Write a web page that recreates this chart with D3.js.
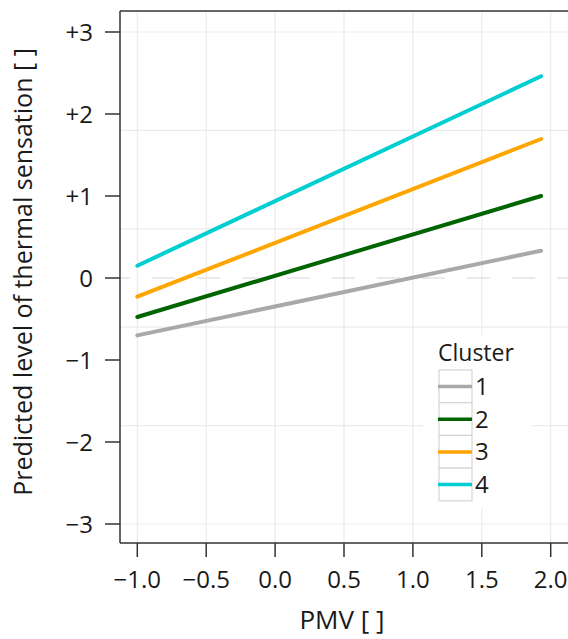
<!DOCTYPE html>
<html><head><meta charset="utf-8">
<script src="https://cdn.jsdelivr.net/npm/d3@7"></script>
<style>body{margin:0;background:#fff}svg{display:block}text{font-family:"Open Sans",sans-serif;fill:#1a1a1a}</style>
</head><body>
<svg id="c" width="568" height="639"></svg>
<script>
const clusters = ["1","2","3","4"];
const colors = ["#a9a9a9","#006400","#ffa500","#00ced1"];
const pmv = [-1.0, 1.93];
const pred1 = [-0.70, 0.333];
const pred2 = [-0.476, 1.0];
const pred3 = [-0.228, 1.695];
const pred4 = [0.15, 2.46];
const xTicks = [-1.0,-0.5,0.0,0.5,1.0,1.5,2.0];
const yTicks = [-3,-2,-1,0,1,2,3];
const yGrid = [-3.0,-1.8,-0.6,0.6,1.8,3.0];
const xTitle = "PMV [ ]";
const yTitle = "Predicted level of thermal sensation [ ]";
const legendTitle = "Cluster";

(function(){
const series = [pred1,pred2,pred3,pred4];
const svg = d3.select("#c");
const W=568;
const pL=120, pT=11, pB=543;
const x = d3.scaleLinear().domain([-1,2]).range([137.3,550.7]);
const y = d3.scaleLinear().domain([-3,3]).range([524,32]);

// grid
svg.append("g").selectAll("line").data(xTicks).join("line")
  .attr("x1",d=>x(d)).attr("x2",d=>x(d)).attr("y1",pT).attr("y2",pB)
  .attr("stroke","#ebebeb").attr("stroke-width",1.2);
svg.append("g").selectAll("line").data(yGrid).join("line")
  .attr("x1",pL).attr("x2",W).attr("y1",d=>y(d)).attr("y2",d=>y(d))
  .attr("stroke","#ebebeb").attr("stroke-width",1.2);
// zero reference dashed
svg.append("line").attr("x1",pL).attr("x2",W).attr("y1",y(0)).attr("y2",y(0))
  .attr("stroke","#e3e3e3").attr("stroke-width",1.5)
  .attr("stroke-dasharray","23,22").attr("stroke-dashoffset",13);

// lines
const line = d3.line().x((d,i)=>x(pmv[i])).y(d=>y(d));
series.forEach((s,i)=>{
  svg.append("path").attr("d",line(s)).attr("fill","none")
    .attr("stroke",colors[i]).attr("stroke-width",4).attr("stroke-linecap","round");
});

// legend
const lg = svg.append("g");
lg.append("rect").attr("x",423).attr("y",335).attr("width",109).attr("height",173).attr("fill","#fff");
lg.append("text").attr("x",438).attr("y",361).attr("font-size",23).text(legendTitle);
clusters.forEach((c,i)=>{
  const ry = 370 + i*32.7;
  lg.append("rect").attr("x",439).attr("y",ry).attr("width",33).attr("height",32.7)
    .attr("fill","#fff").attr("stroke","#d4d4d4").attr("stroke-width",1.2);
  lg.append("line").attr("x1",438).attr("x2",472).attr("y1",ry+16.5).attr("y2",ry+16.5)
    .attr("stroke",colors[i]).attr("stroke-width",3.5);
  lg.append("text").attr("x",475).attr("y",ry+25).attr("font-size",24).text(c);
});

// axes frame
const ax = svg.append("g").attr("stroke","#333").attr("stroke-width",1.5);
ax.append("line").attr("x1",pL).attr("x2",pL).attr("y1",pT).attr("y2",pB);
ax.append("line").attr("x1",pL).attr("x2",W).attr("y1",pT).attr("y2",pT);
ax.append("line").attr("x1",pL).attr("x2",W).attr("y1",pB).attr("y2",pB);

// y ticks
const fmtY = d => d>0 ? "+"+d : (d<0 ? "\u2212"+Math.abs(d) : "0");
svg.append("g").selectAll("line").data(yTicks).join("line")
  .attr("x1",105).attr("x2",pL).attr("y1",d=>y(d)).attr("y2",d=>y(d))
  .attr("stroke","#333").attr("stroke-width",1.5);
svg.append("g").selectAll("text").data(yTicks).join("text")
  .attr("x",93).attr("y",d=>y(d)).attr("dy","0.36em").attr("text-anchor","end")
  .attr("font-size",24).text(fmtY);
// x ticks
const fmtX = d => (d<0?"\u2212":"")+Math.abs(d).toFixed(1);
svg.append("g").selectAll("line").data(xTicks).join("line")
  .attr("x1",d=>x(d)).attr("x2",d=>x(d)).attr("y1",pB).attr("y2",557)
  .attr("stroke","#333").attr("stroke-width",1.5);
svg.append("g").selectAll("text").data(xTicks).join("text")
  .attr("x",d=>x(d)).attr("y",588).attr("text-anchor","middle")
  .attr("font-size",24).text(fmtX);

svg.append("text").attr("x",342).attr("y",629).attr("text-anchor","middle").attr("font-size",26).text(xTitle);
svg.append("text").attr("transform","translate(32,272) rotate(-90)").attr("text-anchor","middle").attr("font-size",25).text(yTitle);
})();
</script>
</body></html>
